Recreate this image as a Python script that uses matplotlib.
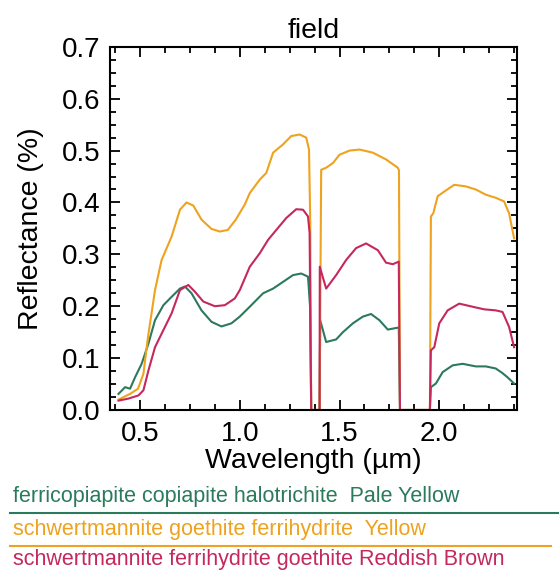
#!/usr/bin/env python3
"""Field reflectance spectra of three mineral-colour classes."""

import matplotlib

matplotlib.use("Agg")
import matplotlib.pyplot as plt
from matplotlib.lines import Line2D
from matplotlib.ticker import MultipleLocator

plt.rcParams["font.family"] = ["Liberation Sans", "DejaVu Sans"]

# Pale Yellow: ferricopiapite copiapite halotrichite
green_wl = [0.392, 0.425, 0.45, 0.475, 0.508, 0.542, 0.575, 0.617, 0.658, 0.70, 0.725,
            0.758, 0.808, 0.858, 0.908, 0.958, 1.0, 1.05, 1.117, 1.167, 1.217, 1.267,
            1.308, 1.342, 1.352, 1.358, 1.40, 1.403, 1.433, 1.483, 1.517, 1.567, 1.617,
            1.658, 1.70, 1.742, 1.797, 1.803, 1.953, 1.958, 1.983, 2.017, 2.067, 2.117,
            2.183, 2.233, 2.283, 2.317, 2.342, 2.375]
green_refl = [0.031, 0.044, 0.041, 0.063, 0.089, 0.128, 0.173, 0.202, 0.218, 0.234, 0.238,
              0.225, 0.192, 0.170, 0.161, 0.167, 0.180, 0.199, 0.225, 0.234, 0.247, 0.260,
              0.263, 0.257, 0.20, 0.0, 0.0, 0.173, 0.131, 0.136, 0.150, 0.167, 0.180,
              0.185, 0.173, 0.155, 0.159, 0.0, 0.0, 0.044, 0.051, 0.073, 0.086, 0.089,
              0.084, 0.084, 0.080, 0.071, 0.063, 0.051]

# Yellow: schwertmannite goethite ferrihydrite
yellow_wl = [0.392, 0.45, 0.49, 0.517, 0.54, 0.575, 0.608, 0.658, 0.70, 0.733, 0.767,
             0.808, 0.858, 0.90, 0.94, 0.98, 1.025, 1.05, 1.10, 1.133, 1.167, 1.217,
             1.258, 1.30, 1.333, 1.347, 1.353, 1.358, 1.40, 1.408, 1.433, 1.467, 1.50,
             1.55, 1.60, 1.667, 1.733, 1.792, 1.798, 1.803, 1.953, 1.958, 1.97, 1.992,
             2.025, 2.075, 2.133, 2.183, 2.233, 2.283, 2.325, 2.35, 2.375]
yellow_refl = [0.020, 0.031, 0.041, 0.070, 0.141, 0.231, 0.289, 0.334, 0.386, 0.400, 0.394,
               0.367, 0.349, 0.344, 0.347, 0.367, 0.396, 0.418, 0.444, 0.457, 0.496, 0.512,
               0.528, 0.531, 0.525, 0.502, 0.367, 0.0, 0.0, 0.463, 0.467, 0.476, 0.492,
               0.500, 0.502, 0.496, 0.483, 0.467, 0.462, 0.0, 0.0, 0.373, 0.379, 0.412,
               0.421, 0.434, 0.431, 0.425, 0.415, 0.409, 0.402, 0.379, 0.331]

# Reddish Brown: schwertmannite ferrihydrite goethite
red_wl = [0.392, 0.442, 0.492, 0.517, 0.542, 0.575, 0.617, 0.658, 0.70, 0.742, 0.775,
          0.817, 0.875, 0.925, 0.975, 1.0, 1.05, 1.10, 1.142, 1.183, 1.233, 1.283,
          1.317, 1.342, 1.35, 1.358, 1.40, 1.401, 1.433, 1.483, 1.533, 1.583, 1.633,
          1.692, 1.733, 1.767, 1.797, 1.803, 1.953, 1.958, 1.975, 2.0, 2.042, 2.10,
          2.167, 2.225, 2.283, 2.317, 2.35, 2.375]
red_refl = [0.018, 0.022, 0.028, 0.038, 0.076, 0.121, 0.154, 0.186, 0.231, 0.241, 0.228,
            0.209, 0.200, 0.202, 0.215, 0.231, 0.276, 0.302, 0.328, 0.347, 0.370, 0.387,
            0.386, 0.373, 0.341, 0.0, 0.0, 0.276, 0.234, 0.260, 0.289, 0.312, 0.321,
            0.308, 0.284, 0.281, 0.286, 0.0, 0.0, 0.115, 0.121, 0.167, 0.192, 0.205,
            0.199, 0.194, 0.192, 0.189, 0.160, 0.121]

labels = [
    "ferricopiapite copiapite halotrichite  Pale Yellow",
    "schwertmannite goethite ferrihydrite  Yellow",
    "schwertmannite ferrihydrite goethite Reddish Brown",
]
colors = ["#2B7A5C", "#EFA21E", "#C4285E"]

fig = plt.figure(figsize=(5.59, 5.71), dpi=100)
ax = fig.add_axes([0.197, 0.282, 0.728, 0.636])

series = [(green_wl, green_refl), (yellow_wl, yellow_refl), (red_wl, red_refl)]
for (wl, refl), c in zip(series, colors):
    ax.plot(wl, refl, color=c, lw=1.5)

ax.set_xlim(0.35, 2.39)
ax.set_ylim(0.0, 0.7)
ax.xaxis.set_major_locator(MultipleLocator(0.5))
ax.xaxis.set_minor_locator(MultipleLocator(0.125))
ax.yaxis.set_major_locator(MultipleLocator(0.1))
ax.yaxis.set_minor_locator(MultipleLocator(0.025))
ax.xaxis.set_major_formatter(plt.FormatStrFormatter("%.1f"))
ax.yaxis.set_major_formatter(plt.FormatStrFormatter("%.1f"))
ax.tick_params(which="both", direction="in", top=True, right=True, width=1.3)
ax.tick_params(which="major", length=7, labelsize=20)
ax.tick_params(which="minor", length=4)
ax.tick_params(axis="x", pad=8)
ax.tick_params(axis="y", pad=7)
for sp in ax.spines.values():
    sp.set_linewidth(1.5)

ax.set_xlabel("Wavelength (µm)", fontsize=20.5, labelpad=1)
ax.set_ylabel("Reflectance (%)", fontsize=20.5, labelpad=13)
ax.set_title("field", fontsize=20.5, pad=6)

# colour key below the axes
text_y = [0.130, 0.073, 0.021]
rule_y = [0.102, 0.044]
rule_end = [1.0, 0.985]
for i, (lab, c) in enumerate(zip(labels, colors)):
    fig.text(0.024, text_y[i], lab, color=c, fontsize=15.5, va="center", ha="left")
    if i < 2:
        fig.add_artist(Line2D([0.018, rule_end[i]], [rule_y[i], rule_y[i]],
                              transform=fig.transFigure, color=c, lw=1.5))

fig.savefig("out.png", dpi=100)
